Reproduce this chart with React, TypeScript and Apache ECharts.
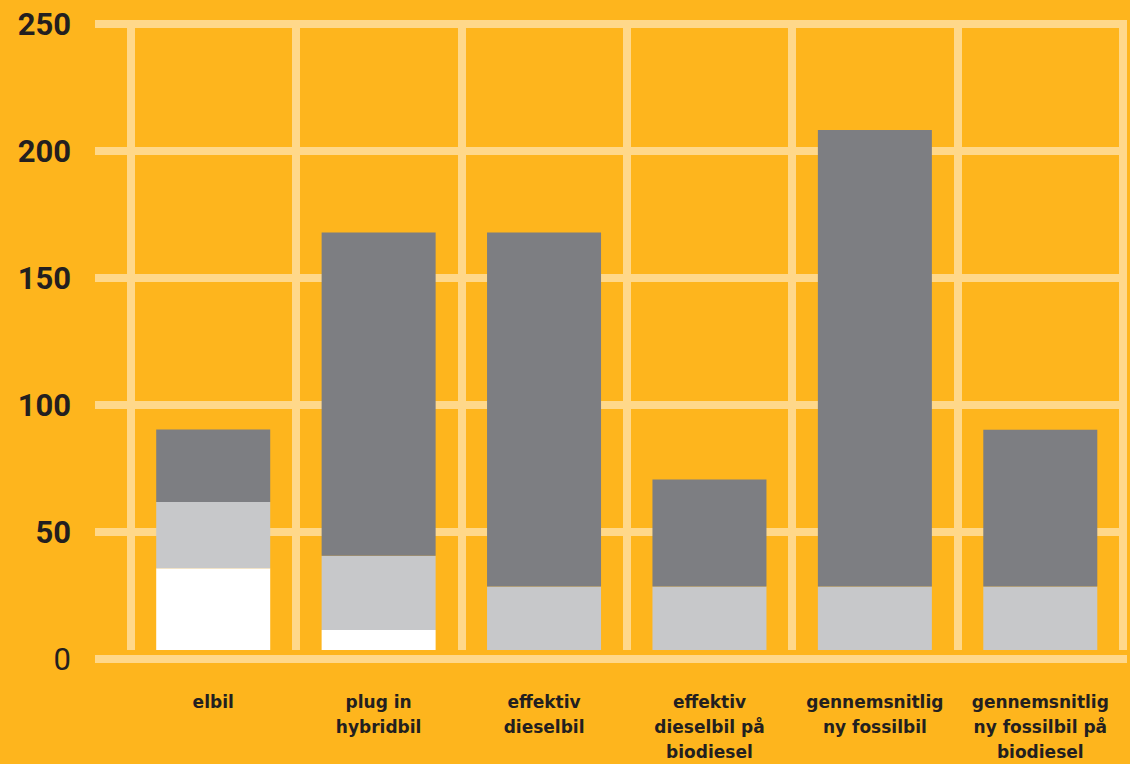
import React, { useEffect, useRef } from "react";
import * as echarts from "echarts";

const categories = [
  "elbil",
  "plug in\nhybridbil",
  "effektiv\ndieselbil",
  "effektiv\ndieselbil på\nbiodiesel",
  "gennemsnitlig\nny fossilbil",
  "gennemsnitlig\nny fossilbil på\nbiodiesel",
];
const whiteValues = [32.4, 7.9, 0, 0, 0, 0];
const lightGrayValues = [26.3, 29.5, 25.2, 25.2, 25.2, 25.2];
const darkGrayValues = [28.8, 128.3, 140.5, 42.5, 181.1, 62.2];
const yTicks = [0, 50, 100, 150, 200, 250];

const BG = "#FEB51D";
const LINE = "#FFD88A";
const TEXT = "#231F20";

export default function App() {
  const ref = useRef<HTMLDivElement>(null);
  useEffect(() => {
    if (!ref.current) return;
    const chart = echarts.init(ref.current, null, { renderer: "svg" });
    const yMax = yTicks[yTicks.length - 1];
    const step = yTicks[1] - yTicks[0];
    chart.setOption({
      animation: false,
      backgroundColor: BG,
      grid: [
        { left: 95, right: 3, top: 24, bottom: 105 },
        { left: 130.5, right: 7, top: 20, bottom: 109 },
      ],
      xAxis: [
        { type: "value", gridIndex: 0, show: false, min: 0, max: 1 },
        {
          type: "category",
          gridIndex: 1,
          data: categories,
          axisLine: { show: false },
          axisTick: { show: false },
          splitLine: { show: true, lineStyle: { color: LINE, width: 8 } },
          axisLabel: {
            interval: 0,
            margin: 39,
            color: TEXT,
            fontFamily: "DejaVu Sans",
            fontWeight: "bold",
            fontSize: 17,
            lineHeight: 25,
            verticalAlign: "top",
          },
        },
      ],
      yAxis: [
        {
          type: "value",
          gridIndex: 0,
          min: 0,
          max: yMax,
          interval: step,
          axisLine: { show: false },
          axisTick: { show: false },
          splitLine: { show: true, lineStyle: { color: LINE, width: 8 } },
          axisLabel: {
            margin: 24,
            color: TEXT,
            formatter: (v: number) => (v === 0 ? "{r|0}" : "{b|" + v + "}"),
            rich: {
              r: { fontFamily: "Roboto", fontWeight: "normal", fontSize: 31, color: TEXT },
              b: { fontFamily: "Roboto", fontWeight: "bold", fontSize: 31, color: TEXT },
            },
          },
        },
        {
          type: "value",
          gridIndex: 1,
          min: 0,
          max: yMax,
          interval: step,
          show: false,
          splitLine: { show: false },
        },
      ],
      series: [
        {
          type: "bar",
          xAxisIndex: 1,
          yAxisIndex: 1,
          stack: "total",
          barWidth: 114,
          data: whiteValues,
          itemStyle: { color: "#FFFFFF" },
        },
        {
          type: "bar",
          xAxisIndex: 1,
          yAxisIndex: 1,
          stack: "total",
          barWidth: 114,
          data: lightGrayValues,
          itemStyle: { color: "#C7C8CA" },
        },
        {
          type: "bar",
          xAxisIndex: 1,
          yAxisIndex: 1,
          stack: "total",
          barWidth: 114,
          data: darkGrayValues,
          itemStyle: { color: "#7D7E82" },
        },
      ],
    });
    return () => chart.dispose();
  }, []);
  return (
    <div
      ref={ref}
      style={{ position: "fixed", left: 0, top: 0, width: 1130, height: 764 }}
    />
  );
}
